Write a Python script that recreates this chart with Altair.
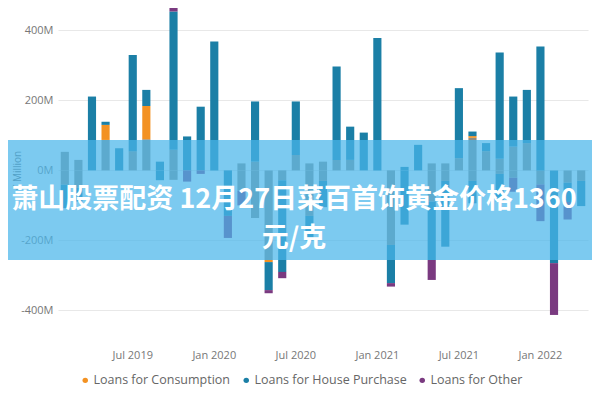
import altair as alt
import pandas as pd

months = list(pd.date_range("2019-02-01", periods=39, freq="MS").strftime("%b %Y"))

# values in € million (stack order: gray, orange, teal, purple)
gray_pos = [53, 30, 0, 87, 0, 55, 89, 0, 59, 0, 0, 0, 0, 20, 25, 0, 0, 44, 20, 25,
            30, 30, 0, 0, 0, 0, 0, 20, 20, 35, 93, 55, 33, 68, 78, 0, 0, 0, 0]
gray_neg = [-41, -50, 0, 0, 0, 0, 0, 0, -27, 0, 0, 0, 0, -58, -136, -256, -28, 0, -130, -30,
            0, 0, 0, 0, -213, 0, 0, -89, -30, 0, -30, 0, -10, -21, 0, -40, 0, -35, -30]
consumption = [0, 0, 0, 43, 0, 0, 95, 0, 0, 0, 0, 0, 0, 0, 0, -6, 0, 0, 0, 0,
               0, 0, 0, 0, 0, 0, 0, 0, 0, 0, 5, 0, 0, 0, 0, 0, 0, 0, 0]
house_pos = [0, 0, 211, 9, 63, 275, 46, 25, 395, 97, 182, 368, 0, 0, 172, 0, 0, 153, 0, 0,
             267, 95, 108, 378, 0, 10, 73, 0, 0, 200, 13, 23, 304, 143, 152, 354, 0, 0, 0]
house_neg = [-67, -39, 0, 0, 0, 0, 0, -28, 0, 0, 0, 0, -130, 0, 0, -80, -262, 0, -70, -75,
             0, 0, 0, 0, -109, -155, 0, -167, -188, 0, -64, 0, -79, 0, 0, 0, -265, -55, -72]
other = [0, 0, 0, 0, 0, 0, 0, 0, 14, -32, -10, 0, -63, -42, 0, -9, -18, 0, 0, 0,
         0, 0, 0, 0, -10, 0, 0, -57, 0, 0, 0, 0, 0, -40, 0, -105, -148, -50, 0]

series_names = ["Unallocated", "Loans for Consumption", "Loans for House Purchase", "Loans for Other"]
series_colors = ["#8e8d84", "#f39223", "#1b7fa6", "#7a3a80"]
legend_names = series_names[1:]

rows = []
for i, m in enumerate(months):
    for name, arr, rank in [
        ("Unallocated", gray_pos, 0), ("Unallocated", gray_neg, 0),
        ("Loans for Consumption", consumption, 1),
        ("Loans for House Purchase", house_pos, 2), ("Loans for House Purchase", house_neg, 2),
        ("Loans for Other", other, 3),
    ]:
        if arr[i] != 0:
            rows.append({"month": m, "series": name, "value": arr[i], "rank": rank})
df = pd.DataFrame(rows)

x_labels = ["Jul 2019", "Jan 2020", "Jul 2020", "Jan 2021", "Jul 2021", "Jan 2022"]
y_ticks = [-400, -200, 0, 200, 400]

bars = alt.Chart(df).mark_bar().encode(
    x=alt.X("month:N", sort=months,
            scale=alt.Scale(paddingInner=0.4, paddingOuter=0.2),
            axis=alt.Axis(values=x_labels, labelAngle=0, ticks=False, domain=False,
                          labelPadding=11, labelColor="#777777", labelFontSize=11,
                          grid=False, title=None)),
    y=alt.Y("value:Q", stack="zero",
            scale=alt.Scale(domain=[-480, 464], nice=False),
            axis=alt.Axis(values=y_ticks, labelExpr="datum.value + 'M'", ticks=False,
                          domain=False, labelPadding=5, labelColor="#777777",
                          labelFontSize=11, gridColor="#e8e8e8",
                          title="€ Million", titleFontSize=10, titleFontWeight="normal",
                          titleColor="#666666", titleX=-41, titleY=162,
                          titleBaseline="middle")),
    color=alt.Color("series:N",
                    scale=alt.Scale(domain=series_names, range=series_colors),
                    legend=alt.Legend(values=legend_names, orient="none", direction="horizontal",
                                      legendX=21, legendY=366, title=None, symbolType="circle",
                                      symbolSize=30, labelFontSize=12.5, labelColor="#666666",
                                      columnPadding=9, labelOffset=2)),
    order=alt.Order("rank:Q", sort="ascending"),
)

banner = alt.Chart(pd.DataFrame({"a": [0]})).mark_rect(color="#49b5ea", opacity=0.72).encode(
    x=alt.value(-60), x2=alt.value(545), y=alt.value(132), y2=alt.value(252)
)

headline = alt.Chart(pd.DataFrame({"a": [0]})).mark_text(
    font="Noto Sans CJK SC", fontSize=27, fontWeight="bold", color="white",
    align="center", baseline="middle", lineHeight=39
).encode(
    x=alt.value(236), y=alt.value(192),
    text=alt.value(["萧山股票配资 12月27日菜百首饰黄金价格1360", "元/克"])
)

chart = alt.layer(bars, banner, headline).properties(
    width=530, height=330.4,
    padding={"left": 50, "top": 0, "right": 4, "bottom": 50},
    autosize=alt.AutoSizeParams(type="none"),
).configure(font="Open Sans").configure_view(stroke=None)

chart.save("out.html", embed_options={"renderer": "svg", "actions": False})
